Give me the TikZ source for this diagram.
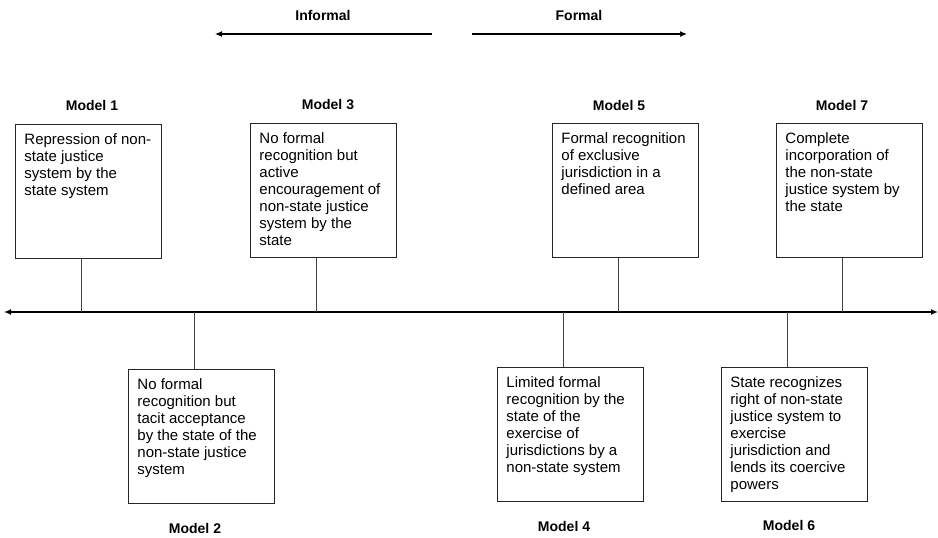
\documentclass[tikz,border=0pt]{standalone}
\usepackage{fontspec}
\setmainfont{Liberation Sans}
\usetikzlibrary{arrows.meta,positioning}

\newcommand{\desc}[1]{\parbox[t][116pt][t]{128pt}{\raggedright #1}}

\begin{document}
\begin{tikzpicture}[x=1pt,y=-1pt,
  >={Latex[length=7pt,width=6pt]},
  model/.style={draw=black!85,line width=0.9pt,inner sep=9pt,anchor=north west,
    font=\fontsize{15}{17}\selectfont},
  tag/.style={font=\bfseries\fontsize{14}{16}\selectfont},
  link/.style={draw=black!75,line width=0.8pt},
  axis/.style={line width=1.6pt,<->},
  trend/.style={line width=1.1pt,->}]

 \useasboundingbox (0,0) rectangle (938,538);

 % direction of the scale
 \node[tag] (inf) at (323,15) {Informal};
 \node[tag] (frm) at (579,15) {Formal};
 \coordinate (inf_a) at (432,34);
 \coordinate (inf_b) at (215,34);
 \coordinate (frm_a) at (472,34);
 \coordinate (frm_b) at (687,34);
 \draw[trend] (inf_a) -- (inf_b);
 \draw[trend] (frm_a) -- (frm_b);

 % axis
 \coordinate (axL) at (4,312);
 \coordinate (axR) at (938,312);
 \draw[axis] (axL) -- (axR);

 % models above the axis
 \node[model] (m_1) at (15,124) {\desc{Repression of non-\\ state justice\\ system by the\\ state system}};
 \node[model] (m_3) at (250,123) {\desc{No formal\\ recognition but\\ active\\ encouragement of\\ non-state justice\\ system by the\\ state}};
 \node[model] (m_5) at (552,123) {\desc{Formal recognition\\ of exclusive\\ jurisdiction in a\\ defined area}};
 \node[model] (m_7) at (776,123) {\desc{Complete\\ incorporation of\\ the non-state\\ justice system by\\ the state}};

 % models below the axis
 \node[model] (m_2) at (128,369) {\desc{No formal\\ recognition but\\ tacit acceptance\\ by the state of the\\ non-state justice\\ system}};
 \node[model] (m_4) at (497,367) {\desc{Limited formal\\ recognition by the\\ state of the\\ exercise of\\ jurisdictions by a\\ non-state system}};
 \node[model] (m_6) at (721,367) {\desc{State recognizes\\ right of non-state\\ justice system to\\ exercise\\ jurisdiction and\\ lends its coercive\\ powers}};

 % labels
 \node[tag] (l_1) at (92,105) {Model 1};
 \node[tag] (l_3) at (328,105) {Model 3};
 \node[tag] (l_5) at (619,105) {Model 5};
 \node[tag] (l_7) at (842,105) {Model 7};
 \node[tag] (l_2) at (195,528) {Model 2};
 \node[tag] (l_4) at (564,526) {Model 4};
 \node[tag] (l_6) at (789,525) {Model 6};

 % ties to the axis
 \draw[link] ([xshift=-7pt]m_1.south) -- ([xshift=-7pt]m_1.south |- axL);
 \draw[link] ([xshift=-7pt]m_3.south) -- ([xshift=-7pt]m_3.south |- axL);
 \draw[link] ([xshift=-7pt]m_5.south) -- ([xshift=-7pt]m_5.south |- axL);
 \draw[link] ([xshift=-7pt]m_7.south) -- ([xshift=-7pt]m_7.south |- axL);
 \draw[link] ([xshift=-7pt]m_2.north) -- ([xshift=-7pt]m_2.north |- axL);
 \draw[link] ([xshift=-7pt]m_4.north) -- ([xshift=-7pt]m_4.north |- axL);
 \draw[link] ([xshift=-7pt]m_6.north) -- ([xshift=-7pt]m_6.north |- axL);
\end{tikzpicture}
\end{document}
